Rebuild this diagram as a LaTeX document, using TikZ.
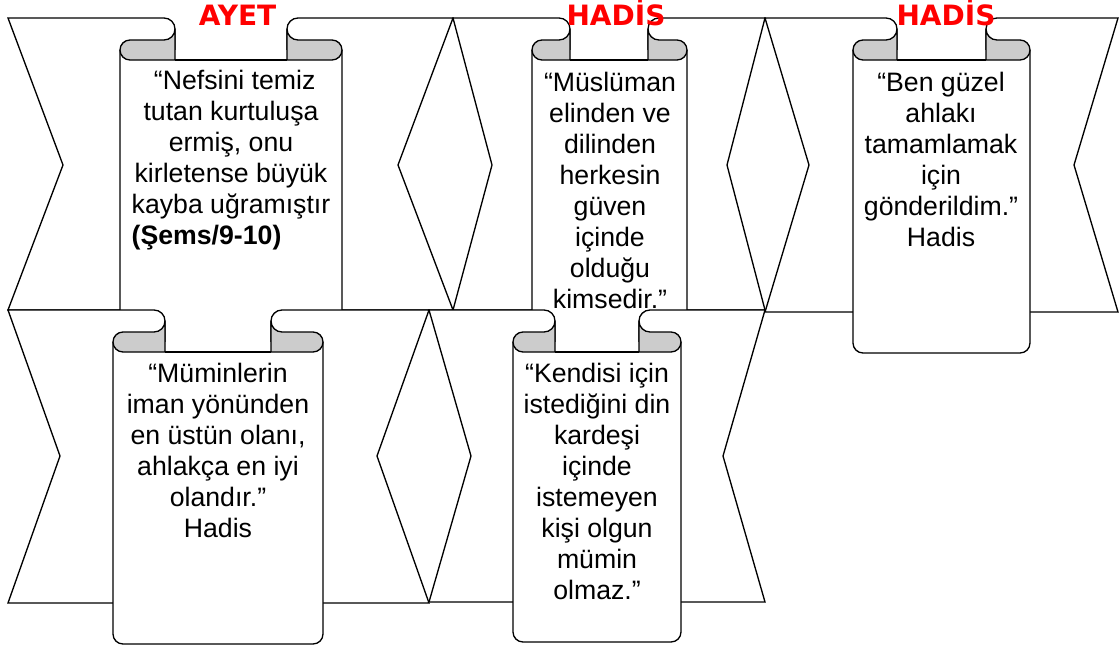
\documentclass[tikz,border=0pt]{standalone}
\usepackage{fontspec}
\setmainfont{Liberation Sans}
\newfontfamily\titlefont{DejaVu Sans}

\tikzset{
  band/.style={draw, fill=white, line width=1pt},
  sheet/.style={draw, fill=white, line width=1pt},
  roll/.style={draw, fill=black!20, line width=1pt},
  rim/.style={draw, line width=1pt},
  quote/.style={anchor=north, inner sep=0pt, align=center, font=\fontsize{20}{23.25}\selectfont},
  heading/.style={anchor=base, inner sep=0pt, text=red, font=\titlefont\bfseries\fontsize{21}{24}\selectfont}
}

\begin{document}
\begin{tikzpicture}[x=0.75pt,y=0.75pt,yscale=-1,xscale=1]
\useasboundingbox (0,0) rectangle (1120,646);

%Shape: Up Ribbon [ayet]
\draw[band] (8,18) -- (164,18) arc[start angle=-90, end angle=0, radius=11] -- (175,60) -- (287,60) -- (287,29) arc[start angle=180, end angle=270, radius=11] -- (453,18) -- (398,165) -- (453,310) -- (8,310) -- (63,165) -- cycle ;
\draw[sheet] (120,50) -- (120,342) arc[start angle=180, end angle=90, radius=10] -- (332,352) arc[start angle=90, end angle=0, radius=10] -- (342,50) ;
\draw[roll] (175,29) arc[start angle=0, end angle=90, radius=11] -- (130,40) arc[start angle=270, end angle=90, radius=10] -- (175,60) -- cycle ;
\draw[roll] (287,29) arc[start angle=180, end angle=90, radius=11] -- (332,40) arc[start angle=-90, end angle=90, radius=10] -- (287,60) -- cycle ;
\draw[rim] (175,60) -- (287,60) ;
% Text Node
\node[quote] (ayetText) at (231,68) {\strut\hspace*{.28em}“Nefsini temiz\\ tutan kurtuluşa\\ ermiş, onu\\ kirletense büyük\\ kayba uğramıştır\\ \rlap{\textbf{(Şems/9-10)}}\hphantom{kayba uğramıştır}};

%Shape: Up Ribbon [hadis 1]
\draw[band] (453,18) -- (559,18) arc[start angle=-90, end angle=0, radius=11] -- (570,60) -- (648,60) -- (648,29) arc[start angle=180, end angle=270, radius=11] -- (765,18) -- (727,165) -- (765,310) -- (453,310) -- (492,165) -- cycle ;
\draw[sheet] (532,50) -- (532,342) arc[start angle=180, end angle=90, radius=10] -- (677,352) arc[start angle=90, end angle=0, radius=10] -- (687,50) ;
\draw[roll] (570,29) arc[start angle=0, end angle=90, radius=11] -- (542,40) arc[start angle=270, end angle=90, radius=10] -- (570,60) -- cycle ;
\draw[roll] (648,29) arc[start angle=180, end angle=90, radius=11] -- (677,40) arc[start angle=-90, end angle=90, radius=10] -- (648,60) -- cycle ;
\draw[rim] (570,60) -- (648,60) ;
% Text Node
\node[quote] (muslimText) at (610,70) {\strut“Müslüman\\ elinden ve\\ dilinden\\ herkesin\\ güven\\ içinde\\ olduğu\\ kimsedir.”};

%Shape: Up Ribbon [hadis 2]
\draw[band] (765,18) -- (886,18) arc[start angle=-90, end angle=0, radius=11] -- (897,60) -- (986,60) -- (986,29) arc[start angle=180, end angle=270, radius=11] -- (1118,18) -- (1074,165) -- (1118,312) -- (765,312) -- (809,165) -- cycle ;
\draw[sheet] (853,50) -- (853,343) arc[start angle=180, end angle=90, radius=10] -- (1020,353) arc[start angle=90, end angle=0, radius=10] -- (1030,50) ;
\draw[roll] (897,29) arc[start angle=0, end angle=90, radius=11] -- (863,40) arc[start angle=270, end angle=90, radius=10] -- (897,60) -- cycle ;
\draw[roll] (986,29) arc[start angle=180, end angle=90, radius=11] -- (1020,40) arc[start angle=-90, end angle=90, radius=10] -- (986,60) -- cycle ;
\draw[rim] (897,60) -- (986,60) ;
% Text Node
\node[quote] (ahlakText) at (941,70) {\strut“Ben güzel\\ ahlakı\\ tamamlamak\\ için\\ gönderildim.”\\ Hadis};

%Shape: Up Ribbon [hadis 3]
\draw[band] (8,310) -- (154,310) arc[start angle=-90, end angle=0, radius=11] -- (165,352) -- (271,352) -- (271,321) arc[start angle=180, end angle=270, radius=11] -- (429,310) -- (377,456) -- (429,603) -- (8,603) -- (60,456) -- cycle ;
\draw[sheet] (113,342) -- (113,634) arc[start angle=180, end angle=90, radius=10] -- (313,644) arc[start angle=90, end angle=0, radius=10] -- (323,342) ;
\draw[roll] (165,321) arc[start angle=0, end angle=90, radius=11] -- (123,332) arc[start angle=270, end angle=90, radius=10] -- (165,352) -- cycle ;
\draw[roll] (271,321) arc[start angle=180, end angle=90, radius=11] -- (313,332) arc[start angle=-90, end angle=90, radius=10] -- (271,352) -- cycle ;
\draw[rim] (165,352) -- (271,352) ;
% Text Node
\node[quote] (muminText) at (218,361) {\strut“Müminlerin\\ iman yönünden\\ en üstün olanı,\\ ahlakça en iyi\\ olandır.”\\ Hadis};

%Shape: Up Ribbon [hadis 4]
\draw[band] (429,310) -- (544,310) arc[start angle=-90, end angle=0, radius=11] -- (555,352) -- (639,352) -- (639,321) arc[start angle=180, end angle=270, radius=11] -- (765,310) -- (723,456) -- (765,602) -- (429,602) -- (471,456) -- cycle ;
\draw[sheet] (513,342) -- (513,632) arc[start angle=180, end angle=90, radius=10] -- (671,642) arc[start angle=90, end angle=0, radius=10] -- (681,342) ;
\draw[roll] (555,321) arc[start angle=0, end angle=90, radius=11] -- (523,332) arc[start angle=270, end angle=90, radius=10] -- (555,352) -- cycle ;
\draw[roll] (639,321) arc[start angle=180, end angle=90, radius=11] -- (671,332) arc[start angle=-90, end angle=90, radius=10] -- (639,352) -- cycle ;
\draw[rim] (555,352) -- (639,352) ;
% Text Node
\node[quote] (kardesText) at (597,361) {\strut“Kendisi için\\ istediğini din\\ kardeşi\\ içinde\\ istemeyen\\ kişi olgun\\ mümin\\ olmaz.”};

% Text Node
\node[heading] (ayetTitle) at (237.5,25) {AYET};
% Text Node
\node[heading] (hadisTitleA) at (616,25) {HADİS};
% Text Node
\node[heading] (hadisTitleB) at (946,25) {HADİS};

\end{tikzpicture}
\end{document}
